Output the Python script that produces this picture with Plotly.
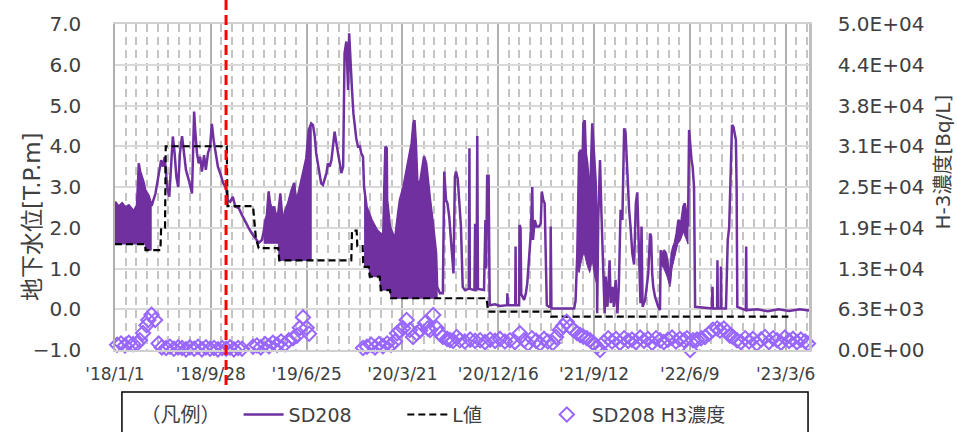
import pandas as pd
import plotly.graph_objects as go

START = pd.Timestamp("2018-01-01")

# ---------------- data (x = elapsed days since 2018-01-01) ----------------
# SD208 groundwater level [T.P.m]; dense oscillating periods given as envelopes
band1_days = [0, 10, 20, 29, 39, 48, 53, 62, 67, 71, 76, 81, 85, 90, 95, 102]
band1_upper = [2.64, 2.52, 2.6, 2.5, 2.55, 2.45, 2.4, 2.55, 3.58, 3.38, 3.25, 3.1, 2.93, 2.85, 2.78, 2.56]
band1_lower_days = [0, 85, 86, 102]
band1_lower = [1.6, 1.6, 1.45, 1.45]

seg1_days = [104, 114, 123, 130, 135, 140, 147, 153, 159, 163, 168, 173, 178, 183, 189, 194, 200, 208, 217, 220,
             223, 226, 231, 236, 240, 245, 251, 256, 262, 268, 273, 278, 283, 290, 298, 305, 313, 318, 325, 332,
             339, 349, 358, 367, 377, 386, 395, 405, 414]
seg1_vals = [2.56, 2.84, 3.25, 3.66, 3.5, 3.74, 3.0, 2.76, 3.66, 4.24, 3.83, 3.25, 3.0, 3.83, 4.25, 3.83, 3.42, 3.17, 2.84, 3.83,
             4.85, 4.4, 3.83, 3.58, 3.74, 3.38, 3.78, 3.42, 3.83, 3.99, 4.55, 4.15, 3.83, 3.5, 3.3, 3.09, 2.97, 2.68, 2.64, 2.76,
             2.52, 2.48, 2.31, 2.15, 1.99, 1.86, 1.74, 1.63, 1.7]

band2_days = [419, 424, 428, 433, 437, 443, 448, 454, 460, 466, 469, 474, 479, 488, 497, 505, 511, 521, 530, 535, 539, 546, 553]
band2_upper = [1.9, 2.19, 2.3, 2.89, 2.6, 2.44, 2.52, 2.3, 2.35, 2.84, 2.5, 2.0, 2.4, 2.6, 2.9, 3.1, 2.6, 3.0, 3.4, 3.6, 3.7, 4.4, 4.56]
band2_lower_days = [419, 460, 463, 553]
band2_lower = [1.62, 1.62, 1.2, 1.2]

seg2_days = [558, 563, 567, 572, 577, 581, 586, 591, 596, 600, 605, 610, 614, 619, 624, 629, 633, 638, 643, 647,
             652, 657, 660, 664, 668, 672, 676, 680, 685, 690, 694, 699]
seg2_vals = [4.52, 4.24, 3.83, 3.58, 3.25, 3.09, 3.05, 3.17, 3.34, 3.58, 3.5, 3.66, 3.99, 4.36, 4.07, 3.83, 3.58, 3.34, 3.5, 6.28,
             6.57, 5.38, 6.77, 5.87, 5.38, 4.8, 4.48, 4.19, 3.99, 4.0, 3.83, 3.74]

band4_days = [702, 709, 723, 738, 747, 756, 759, 762, 766, 767, 775, 784, 789, 798, 803, 813, 822, 831, 836, 841,
              844, 848, 852, 858, 864, 871, 877, 883, 888, 897, 905, 908]
band4_upper = [3.0, 2.52, 2.19, 1.94, 1.86, 1.78, 3.0, 3.99, 3.95, 2.68, 2.03, 1.78, 1.7, 2.35, 2.68, 3.0, 3.42, 3.83, 4.07, 4.56,
               4.64, 4.07, 3.17, 3.0, 3.34, 3.75, 3.58, 3.0, 2.68, 2.03, 1.37, 0.55]
band4_lower_days = [702, 716, 718, 746, 749, 775, 778, 908]
band4_lower = [1.04, 1.04, 0.8, 0.8, 0.47, 0.47, 0.27, 0.27]

seg3_days = [916, 924, 928, 933, 937, 942, 946, 949, 954, 958, 961, 966, 970, 975, 980, 986, 997, 999, 1000, 1013,
             1015, 1016, 1019, 1021, 1023, 1040, 1044, 1046, 1049, 1051, 1053, 1056, 1071, 1085, 1105, 1106, 1107, 1128, 1129, 1130,
             1139, 1140, 1143, 1145, 1153, 1158, 1162, 1167, 1172, 1176, 1178, 1183, 1188, 1195, 1200, 1203, 1207, 1211, 1214, 1217,
             1223, 1227, 1228, 1230, 1294, 1298, 1303, 1308, 1313, 1317, 1320, 1324, 1327, 1331, 1336, 1339, 1341, 1345, 1350, 1355,
             1358, 1359, 1362, 1367, 1371, 1376, 1380, 1383, 1388, 1394, 1397, 1402, 1406, 1411, 1416, 1420, 1425, 1430, 1435, 1439,
             1444, 1449, 1453, 1458, 1463, 1468, 1472, 1477, 1481, 1484, 1487, 1494, 1499, 1503, 1508, 1511, 1514, 1517, 1522, 1527,
             1531, 1536, 1538, 1543, 1547, 1553, 1559, 1564, 1569, 1574, 1578, 1583, 1588, 1592, 1597, 1602, 1606, 1611, 1615, 1618,
             1621, 1625, 1628, 1632, 1635, 1682, 1684, 1685, 1697, 1698, 1699, 1707, 1708, 1709, 1722, 1724, 1727, 1731, 1733, 1736,
             1739, 1743, 1747, 1750, 1752, 1754, 1778, 1779, 1780, 1810, 1840, 1870, 1900, 1930, 1956]
seg3_vals = [0.39, 0.39, 3.38, 2.68, 2.6, 2.27, 1.86, 1.37, 0.88, 3.25, 3.38, 3.2, 2.6, 2.03, 0.55, 0.47, 0.5, 3.95, 0.5, 0.47,
             2.1, 0.47, 0.5, 4.25, 0.5, 0.47, 2.19, 1.0, 3.3, 2.0, 3.3, 0.1, 0.12, 0.08, 0.1, 0.39, 0.1, 0.1, 1.54, 0.1,
             0.1, 2.07, 2.0, 0.37, 0.23, 0.39, 0.64, 1.37, 1.86, 3.0, 1.7, 2.19, 2.03, 2.03, 2.11, 2.89, 2.68, 2.6, 1.37, 0.1,
             0.06, 0.06, 2.03, 0.02, 0.02, 0.2, 1.37, 3.83, 3.91, 3.34, 4.56, 4.64, 3.83, 3.58, 3.0, 2.19, 3.34, 4.56, 3.83, 3.09,
             1.37, -0.1, 2.19, 3.66, 2.35, 0.72, -0.1, 0.8, 0.06, 1.2, 0.15, 0.55, 0.06, 0.72, -0.1, 0.55, 2.44, 2.19, 4.44, 4.32,
             3.34, 2.44, 2.03, 1.37, 1.1, 2.6, 2.87, 1.37, 0.15, 2.03, 0.06, 0.22, 0.55, 0.88, 1.86, 1.78, 0.88, 0.55, 0.31, 0.15,
             0.06, -0.02, 1.45, 1.2, 1.45, 1.37, 1.05, 0.64, 1.37, 1.54, 1.62, 1.86, 2.19, 2.11, 2.19, 2.52, 2.6, 2.27, 2.03, 4.4,
             3.99, 3.66, 3.5, 3.0, 0.06, 0.02, 0.55, 0.02, 0.02, 1.2, 0.02, 0.02, 1.05, 0.02, 0.02, 0.55, 1.7, 2.0, 2.68, 3.66,
             4.52, 4.48, 4.24, 4.15, 3.0, 0.06, -0.02, 1.54, -0.02, 0.0, -0.05, 0.0, -0.04, 0.0, -0.03]

# lower edges of the dense oscillation blocks inside seg3 (upper edge = seg3 line)
band5_lower_days = [1303, 1308, 1315, 1322, 1330, 1338, 1345, 1352, 1358]
band5_lower = [1.0, 0.9, 1.2, 1.4, 1.1, 0.9, 1.2, 0.8, 0.6]
band6_lower_days = [1538, 1547, 1556, 1564, 1570, 1578, 1586, 1594, 1602, 1610, 1615]
band6_lower = [1.1, 1.0, 0.8, 0.55, 1.0, 1.3, 1.6, 1.7, 1.9, 1.7, 1.6]

# L値 (step line)
l_days = [0, 85, 86, 128, 130, 141, 143, 315, 317, 389, 397, 405, 460, 463, 666, 668, 681, 683, 698, 700,
          715, 718, 746, 749, 775, 778, 1047, 1052, 1225, 1229, 1898]
l_vals = [1.6, 1.6, 1.45, 1.45, 2.0, 2.0, 4.0, 4.0, 2.53, 2.53, 1.75, 1.5, 1.5, 1.2, 1.2, 1.93, 1.93, 1.55, 1.55, 1.04,
          1.04, 0.8, 0.8, 0.47, 0.47, 0.27, 0.27, -0.06, -0.06, -0.18, -0.18]

# SD208 H-3 concentration [Bq/L]
h3_days = [6, 17, 28, 39, 51, 62, 70, 79, 89, 94, 103, 113, 123, 132, 144, 155, 166, 178, 189, 200,
           211, 223, 234, 245, 256, 268, 279, 290, 302, 313, 324, 335, 347, 358, 389, 400, 411, 423, 434, 445,
           457, 468, 479, 490, 502, 513, 521, 530, 540, 547, 699, 710, 722, 733, 744, 755, 767, 778, 789, 795,
           803, 812, 822, 831, 840, 850, 860, 874, 882, 888, 897, 907, 916, 924, 936, 944, 953, 963, 972, 986,
           1001, 1015, 1029, 1043, 1057, 1071, 1085, 1099, 1113, 1127, 1141, 1153, 1164, 1175, 1187, 1198, 1209, 1220, 1234, 1243,
           1254, 1263, 1273, 1282, 1292, 1302, 1311, 1320, 1330, 1339, 1350, 1358, 1367, 1378, 1390, 1401, 1412, 1423, 1435, 1446,
           1457, 1468, 1480, 1491, 1502, 1514, 1525, 1536, 1547, 1559, 1570, 1581, 1592, 1604, 1612, 1621, 1629, 1640, 1652, 1663,
           1674, 1685, 1697, 1705, 1716, 1725, 1733, 1742, 1753, 1764, 1776, 1787, 1798, 1809, 1821, 1832, 1843, 1855, 1866, 1877,
           1888, 1900, 1911, 1922, 1933, 1945, 1953]
h3_vals = [800, 1000, 700, 1100, 900, 1000, 1500, 2600, 3800, 4600, 5400, 4600, 1000, 400, 300, 500, 200, 400, 300, 100,
           400, 200, 500, 100, 400, 200, 300, 100, 300, 200, 400, 100, 300, 200, 500, 700, 400, 900, 600, 1100,
           800, 1300, 900, 1500, 1800, 2200, 3400, 5000, 3400, 2500, 300, 500, 800, 400, 900, 600, 1000, 800, 1300, 2560,
           3000, 3330, 4600, 3070, 2000, 2560, 3000, 4140, 3300, 3070, 5370, 3330, 2500, 2000, 1700, 1530, 1400, 2000, 1500, 1300,
           1600, 1400, 1500, 1200, 1600, 1400, 1700, 1300, 1500, 1200, 2560, 1500, 1000, 1800, 1400, 1000, 1700, 1300, 1070, 2000,
           3070, 3700, 4340, 3600, 3070, 2600, 2300, 2050, 1800, 1500, 1000, 500, 0, 1200, 1800, 1300, 1700, 1100, 1800, 1400,
           1600, 1200, 1900, 1400, 1700, 1100, 1800, 1500, 1200, 1600, 1900, 1300, 1700, 1500, 1800, 0, 1500, 1600, 1800, 2000,
           2500, 3100, 3300, 3000, 3300, 2800, 2200, 2000, 1500, 1200, 1800, 1300, 1700, 1000, 1600, 2000, 1200, 1800, 1500, 1100,
           1900, 1400, 1700, 1200, 1600, 1300, 1000]

h3_tick_vals = [0, 6250, 12500, 18750, 25000, 31250, 37500, 43750, 50000]
h3_tick_text = ["0.0E+00", "6.3E+03", "1.3E+04", "1.9E+04", "2.5E+04", "3.1E+04", "3.8E+04", "4.4E+04", "5.0E+04"]
marker_day = 313  # red dashed reference line

# ---------------- figure ----------------
def to_dates(days):
    return START + pd.to_timedelta(days, unit="D")

PURPLE = "#7030A0"
H3C = "#9966FF"
TXT = "#404040"
FONT = "DejaVu Sans, Noto Sans CJK JP, sans-serif"

sd_days = band1_days + seg1_days + band2_days + seg2_days + band4_days + seg3_days
sd_vals = band1_upper + seg1_vals + band2_upper + seg2_vals + band4_upper + seg3_vals


def upper_from_series(lo_days):
    a, b = lo_days[0], lo_days[-1]
    pairs = [(d, v) for d, v in zip(seg3_days, seg3_vals) if a <= d <= b]
    return [p[0] for p in pairs], [p[1] for p in pairs]


bands = [(band1_days, band1_upper, band1_lower_days, band1_lower),
         (band2_days, band2_upper, band2_lower_days, band2_lower),
         (band4_days, band4_upper, band4_lower_days, band4_lower)]
for lo_d, lo_v in [(band5_lower_days, band5_lower), (band6_lower_days, band6_lower)]:
    up_d, up_v = upper_from_series(lo_d)
    bands.append((up_d, up_v, lo_d, lo_v))

fig = go.Figure()
for up_d, up_v, lo_d, lo_v in bands:
    xs = list(to_dates(up_d)) + list(to_dates(lo_d[::-1]))
    ys = list(up_v) + list(lo_v[::-1])
    fig.add_trace(go.Scatter(x=xs, y=ys, fill="toself", fillcolor=PURPLE, mode="lines",
                             line=dict(width=1, color=PURPLE), showlegend=False, hoverinfo="skip"))

fig.add_trace(go.Scatter(x=to_dates(sd_days), y=sd_vals, mode="lines", name="SD208", legend="legend",
                         line=dict(color=PURPLE, width=2.5)))
fig.add_trace(go.Scatter(x=to_dates(l_days), y=l_vals, mode="lines", name="L値", legend="legend2",
                         line=dict(color="black", width=2.2, dash="7px,4px")))
fig.add_trace(go.Scatter(x=to_dates(h3_days), y=h3_vals, mode="markers", name="SD208 H3濃度", yaxis="y2",
                         legend="legend3",
                         marker=dict(symbol="diamond-open", size=11, color=H3C, line=dict(width=2, color=H3C)),
                         cliponaxis=False))

leg_common = dict(orientation="h", y=-0.14, yanchor="top", xanchor="left",
                  font=dict(size=19, color=TXT), bgcolor="rgba(0,0,0,0)", itemwidth=40)

fig.update_layout(
    width=957, height=432,
    margin=dict(l=115, r=148, t=24, b=82, autoexpand=False),
    paper_bgcolor="white", plot_bgcolor="white",
    font=dict(family=FONT, color=TXT, size=18),
    showlegend=True,
    legend=dict(x=0.034, title=dict(text="（凡例）\u2002", side="left", font=dict(size=20, color=TXT)), **leg_common),
    legend2=dict(x=0.414, **leg_common),
    legend3=dict(x=0.615, **leg_common),
    xaxis=dict(type="date", range=[to_dates([0])[0], to_dates([1956])[0]],
               tickmode="linear", tick0=to_dates([0])[0], dtick=270 * 86400000,
               tickformat="'%y/%-m/%-d", tickfont=dict(size=17), ticks="", ticklabelstandoff=8,
               showgrid=True, gridcolor="#B0B0B0", gridwidth=1.5,
               minor=dict(tick0=to_dates([0])[0], dtick=30 * 86400000, showgrid=True,
                          gridcolor="#C4C4C4", griddash="8px,5px", gridwidth=2),
               showline=True, linecolor="#D0D0D0", linewidth=2, mirror=True, zeroline=False),
    yaxis=dict(range=[-1, 7], dtick=1, tick0=0, tickformat=".1f", tickfont=dict(size=20),
               ticks="", ticklabelstandoff=28, showgrid=True, gridcolor="#D9D9D9", gridwidth=1.5,
               showline=True, linecolor="#B0B0B0", linewidth=1.5, zeroline=False),
    yaxis2=dict(overlaying="y", side="right", range=[0, 50000], tickmode="array",
                tickvals=h3_tick_vals, ticktext=h3_tick_text, tickfont=dict(size=20),
                ticks="", ticklabelstandoff=22, showgrid=False, zeroline=False,
                showline=True, linecolor="#C0C0C0", linewidth=2.5),
    shapes=[
        dict(type="line", xref="x", yref="paper", x0=to_dates([marker_day])[0], x1=to_dates([marker_day])[0],
             y0=-0.107, y1=1.08, line=dict(color="#FF0000", width=3, dash="10px,5px"), layer="above"),
        dict(type="rect", xref="paper", yref="paper", x0=0.01, x1=0.9986, y0=-0.129, y1=-0.40,
             line=dict(color="black", width=1.5), fillcolor="rgba(0,0,0,0)"),
    ],
    annotations=[
        dict(text="地下水位[T.P.m]", xref="paper", yref="paper", x=-0.1196, y=0.411, textangle=-90,
             showarrow=False, font=dict(size=23, color=TXT), xanchor="center", yanchor="middle"),
        dict(text="H-3濃度[Bq/L]", xref="paper", yref="paper", x=1.1925, y=0.5767, textangle=-90,
             showarrow=False, font=dict(size=20, color=TXT), xanchor="center", yanchor="middle"),
    ],
)

fig.write_html("out.html", config={"displayModeBar": False},
               post_script="document.body.style.margin='0px';")
